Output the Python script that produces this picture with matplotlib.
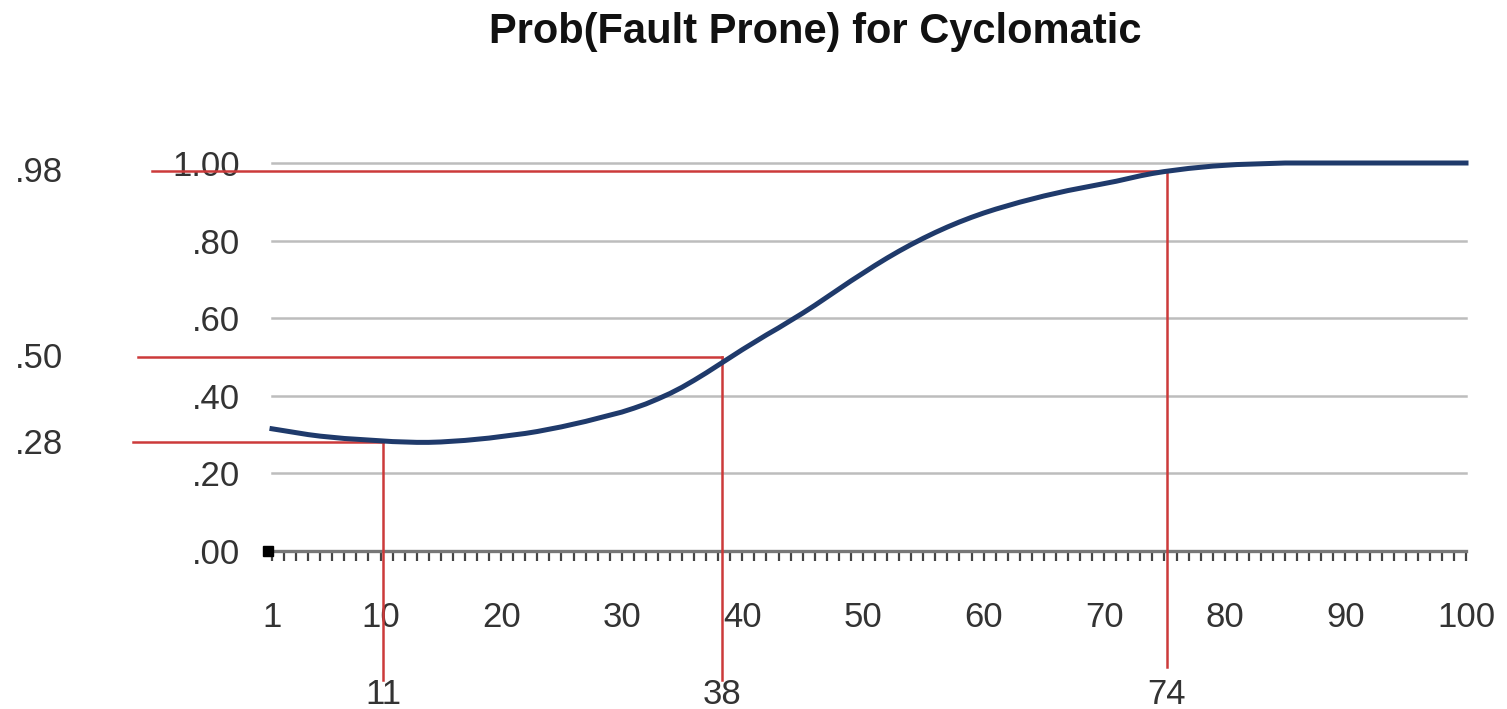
import matplotlib.pyplot as plt

# data
cyclomatic = list(range(1, 101))
prob = [0.315, 0.310, 0.305, 0.300, 0.296, 0.293, 0.290, 0.288, 0.286, 0.284,
        0.282, 0.281, 0.280, 0.280, 0.281, 0.283, 0.285, 0.288, 0.291, 0.295,
        0.299, 0.303, 0.308, 0.314, 0.320, 0.327, 0.334, 0.342, 0.350, 0.358,
        0.368, 0.379, 0.392, 0.406, 0.422, 0.440, 0.459, 0.479, 0.499, 0.519,
        0.538, 0.557, 0.575, 0.594, 0.613, 0.633, 0.654, 0.675, 0.696, 0.716,
        0.736, 0.755, 0.773, 0.790, 0.806, 0.821, 0.835, 0.848, 0.860, 0.871,
        0.881, 0.890, 0.899, 0.907, 0.915, 0.922, 0.929, 0.935, 0.941, 0.947,
        0.953, 0.960, 0.967, 0.973, 0.978, 0.982, 0.986, 0.989, 0.992, 0.994,
        0.996, 0.997, 0.998, 0.999, 1.0, 1.0, 1.0, 1.0, 1.0, 1.0,
        1.0, 1.0, 1.0, 1.0, 1.0, 1.0, 1.0, 1.0, 1.0, 1.0]
x_labels = [1, 10, 20, 30, 40, 50, 60, 70, 80, 90, 100]
y_ticks = [0.0, 0.2, 0.4, 0.6, 0.8, 1.0]
y_labels = ['.00', '.20', '.40', '.60', '.80', '1.00']

# red guide lines
mark_levels = [0.28, 0.50, 0.98]
mark_level_text = ['.28', '.50', '.98']
mark_x = [10.2, 38.3, 75.2]
mark_x_text = ['11', '38', '74']

plt.rcParams['font.family'] = ['Liberation Sans', 'DejaVu Sans']

fig = plt.figure(figsize=(15.07, 7.09), dpi=100)
ax = fig.add_axes([272/1507, 1 - 551/709, 1194/1507, 388/709])

ax.set_xlim(1, 100)
ax.set_ylim(0, 1.0)

ax.set_yticks(y_ticks)
ax.set_yticklabels(y_labels)
ax.yaxis.grid(True, color='#bdbdbd', lw=1.8)
for gl in ax.get_ygridlines():
    gl.set_clip_on(False)
ax.set_axisbelow(True)
ax.tick_params(axis='y', length=0, pad=23, labelsize=25, labelcolor='#333333')

ax.set_xticks(x_labels)
ax.set_xticks(cyclomatic, minor=True)
ax.tick_params(axis='x', which='both', direction='out', length=7, width=1.6,
               color='#444444', pad=29, labelsize=25, labelcolor='#333333')

for s in ['left', 'right', 'top']:
    ax.spines[s].set_visible(False)
ax.spines['bottom'].set_color('#777777')
ax.spines['bottom'].set_linewidth(2.4)

ax.plot(cyclomatic, prob, color='#1f3a6b', lw=3.6, clip_on=False, zorder=4)
ax.plot([cyclomatic[0] - 0.3], [0.0], marker='s', color='black', ms=7, clip_on=False, zorder=5)

left_ends = [-10.5, -10.1, -8.95]
bottoms = [-0.332, -0.332, -0.30]
for lvl, lx, xv, yb in zip(mark_levels, left_ends, mark_x, bottoms):
    ax.plot([lx, xv], [lvl, lvl], color='#cc3a3a', lw=1.8, clip_on=False, zorder=3)
    ax.plot([xv, xv], [yb, lvl], color='#cc3a3a', lw=1.8, clip_on=False, zorder=3)

ytr = ax.get_yaxis_transform()
for lvl, txt in zip(mark_levels, mark_level_text):
    ax.text(-0.215, lvl - 0.005, txt, transform=ytr, ha='left', va='center',
            fontsize=25, color='#333333')

for xv, txt in zip(mark_x, mark_x_text):
    ax.text(xv, -0.371, txt, ha='center', va='center',
            fontsize=25, color='#333333', clip_on=False)

fig.text(815/1507, 1 - 32/709, 'Prob(Fault Prone) for Cyclomatic', ha='center', va='center',
         fontsize=30, fontweight='bold', color='#111111')

fig.savefig('out.png', dpi=100)
